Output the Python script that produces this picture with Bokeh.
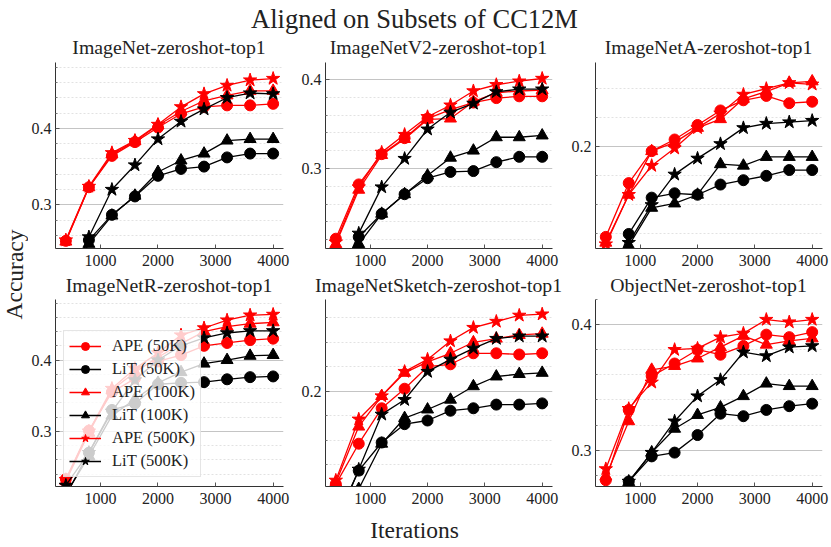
from bokeh.plotting import figure
from bokeh.models import Range1d, FixedTicker, Label
from bokeh.layouts import column, row
from bokeh.embed import file_html
from bokeh.resources import INLINE

# ---------------- data ----------------
iterations = [400, 800, 1200, 1600, 2000, 2400, 2800, 3200, 3600, 4000]
x_ticks = [1000, 2000, 3000, 4000]
series_labels = ["APE (50K)", "LiT (50K)", "APE (100K)", "LiT (100K)", "APE (500K)", "LiT (500K)"]
panel_titles = ["ImageNet-zeroshot-top1", "ImageNetV2-zeroshot-top1", "ImageNetA-zeroshot-top1",
                "ImageNetR-zeroshot-top1", "ImageNetSketch-zeroshot-top1", "ObjectNet-zeroshot-top1"]

# ImageNet
in_ape50 = [0.253, 0.323, 0.364, 0.382, 0.401, 0.419, 0.428, 0.430, 0.430, 0.432]
in_lit50 = [0.205, 0.254, 0.287, 0.311, 0.338, 0.347, 0.350, 0.362, 0.367, 0.367]
in_ape100 = [0.252, 0.323, 0.366, 0.383, 0.404, 0.422, 0.436, 0.443, 0.449, 0.449]
in_lit100 = [0.200, 0.249, 0.286, 0.312, 0.343, 0.358, 0.367, 0.384, 0.386, 0.386]
in_ape500 = [0.254, 0.324, 0.368, 0.384, 0.405, 0.428, 0.445, 0.456, 0.463, 0.465]
in_lit500 = [0.180, 0.258, 0.320, 0.352, 0.386, 0.409, 0.425, 0.440, 0.446, 0.445]

# ImageNetV2
v2_ape50 = [0.221, 0.282, 0.316, 0.334, 0.356, 0.366, 0.374, 0.379, 0.381, 0.381]
v2_lit50 = [0.160, 0.223, 0.249, 0.271, 0.289, 0.296, 0.297, 0.307, 0.313, 0.313]
v2_ape100 = [0.215, 0.276, 0.315, 0.333, 0.355, 0.356, 0.375, 0.385, 0.387, 0.388]
v2_lit100 = [0.155, 0.215, 0.249, 0.271, 0.292, 0.312, 0.320, 0.335, 0.335, 0.337]
v2_ape500 = [0.217, 0.279, 0.318, 0.338, 0.358, 0.371, 0.387, 0.394, 0.398, 0.401]
v2_lit500 = [0.165, 0.227, 0.279, 0.311, 0.344, 0.363, 0.373, 0.386, 0.389, 0.389]

# ImageNetA
a_ape50 = [0.138, 0.175, 0.197, 0.205, 0.215, 0.225, 0.232, 0.235, 0.230, 0.231]
a_lit50 = [0.100, 0.140, 0.165, 0.168, 0.167, 0.174, 0.177, 0.180, 0.184, 0.184]
a_ape100 = [0.134, 0.167, 0.197, 0.203, 0.213, 0.219, 0.233, 0.238, 0.244, 0.245]
a_lit100 = [0.095, 0.132, 0.158, 0.161, 0.167, 0.188, 0.187, 0.193, 0.193, 0.193]
a_ape500 = [0.133, 0.167, 0.187, 0.199, 0.213, 0.223, 0.236, 0.240, 0.244, 0.243]
a_lit500 = [0.095, 0.134, 0.160, 0.181, 0.192, 0.202, 0.213, 0.216, 0.217, 0.218]

# ImageNetR
r_ape50 = [0.233, 0.301, 0.355, 0.374, 0.398, 0.407, 0.420, 0.424, 0.428, 0.430]
r_lit50 = [0.210, 0.270, 0.330, 0.339, 0.366, 0.368, 0.369, 0.373, 0.376, 0.377]
r_ape100 = [0.230, 0.298, 0.358, 0.383, 0.404, 0.423, 0.440, 0.447, 0.451, 0.453]
r_lit100 = [0.212, 0.265, 0.322, 0.345, 0.368, 0.383, 0.395, 0.400, 0.406, 0.407]
r_ape500 = [0.232, 0.300, 0.360, 0.388, 0.410, 0.435, 0.445, 0.456, 0.463, 0.464]
r_lit500 = [0.224, 0.270, 0.328, 0.372, 0.400, 0.420, 0.431, 0.438, 0.441, 0.441]

# ImageNetSketch
sk_ape50 = [0.124, 0.157, 0.186, 0.202, 0.220, 0.222, 0.231, 0.231, 0.230, 0.231]
sk_lit50 = [0.095, 0.135, 0.158, 0.173, 0.176, 0.184, 0.186, 0.189, 0.189, 0.190]
sk_ape100 = [0.125, 0.171, 0.196, 0.215, 0.224, 0.231, 0.240, 0.243, 0.246, 0.247]
sk_lit100 = [0.085, 0.120, 0.157, 0.178, 0.185, 0.193, 0.204, 0.212, 0.214, 0.215]
sk_ape500 = [0.127, 0.177, 0.196, 0.216, 0.226, 0.241, 0.252, 0.257, 0.262, 0.263]
sk_lit500 = [0.090, 0.136, 0.181, 0.193, 0.216, 0.226, 0.235, 0.243, 0.245, 0.245]

# ObjectNet
on_ape50 = [0.276, 0.332, 0.359, 0.369, 0.380, 0.376, 0.383, 0.392, 0.390, 0.394]
on_lit50 = [0.250, 0.275, 0.295, 0.298, 0.312, 0.329, 0.327, 0.332, 0.335, 0.337]
on_ape100 = [0.279, 0.323, 0.364, 0.367, 0.373, 0.382, 0.391, 0.384, 0.387, 0.389]
on_lit100 = [0.250, 0.2745, 0.298, 0.317, 0.328, 0.334, 0.343, 0.353, 0.351, 0.351]
on_ape500 = [0.285, 0.333, 0.354, 0.380, 0.381, 0.390, 0.393, 0.404, 0.402, 0.404]
on_lit500 = [0.250, 0.275, 0.298, 0.323, 0.343, 0.356, 0.378, 0.375, 0.382, 0.383]

# ---------------- styling ----------------
FONT = "Liberation Serif"
TEXT_COLOR = "#222222"
colors = ["red", "black", "red", "black", "red", "black"]
markers = ["circle", "circle", "triangle", "triangle", "star", "star"]
marker_sizes = {"circle": 11, "triangle": 12, "star": 14}
major_y = [0.1, 0.2, 0.3, 0.4, 0.5]
minor_y = [round(0.1 + 0.02 * i, 2) for i in range(21)]
minor_y = [t for t in minor_y if all(abs(t - m) > 1e-9 for m in major_y)]

# layout constants (pixels)
W_LAB = 28
COL_W = [270, 270, 263]
BL = [26, 26, 26]
BR = [15, 16, 9]
TOP_H = 60
MID_H = 25
BOT_H = 37
ROW_H = [212, 213]
BT = 2
BB = 24
TXT_SHIFT = 8  # measured offset of the label baseline in the renderer


def make_panel(series, ylo, yhi, width, height, bl, br, legend=False):
    p = figure(width=width, height=height, x_range=Range1d(220, 4180), y_range=Range1d(ylo, yhi),
               output_backend="svg", toolbar_location=None,
               min_border_left=bl, min_border_right=br, min_border_top=BT, min_border_bottom=BB)
    p.outline_line_color = None
    p.xgrid.grid_line_color = None
    yt = FixedTicker(ticks=major_y, minor_ticks=minor_y)
    p.yaxis.ticker = yt
    p.ygrid.ticker = yt
    p.xaxis.ticker = FixedTicker(ticks=x_ticks)
    p.ygrid.grid_line_color = "#c4c4c4"
    p.ygrid.grid_line_width = 1
    p.ygrid.minor_grid_line_color = "#e2e2e2"
    p.ygrid.minor_grid_line_dash = "2 2"
    for ax in (p.xaxis, p.yaxis):
        ax.axis_line_color = "#333333"
        ax.major_tick_in = 4
        ax.major_tick_out = 0
        ax.major_tick_line_color = "#555555"
        ax.major_label_text_font = FONT
        ax.major_label_text_font_size = "16px"
        ax.major_label_text_color = TEXT_COLOR
    p.yaxis.minor_tick_in = 2
    p.yaxis.minor_tick_out = 0
    p.yaxis.minor_tick_line_color = "#777777"
    p.xaxis.minor_tick_line_color = None
    p.yaxis.major_label_standoff = 4
    p.xaxis.major_label_standoff = 6

    for lab, col, mk, ys in zip(series_labels, colors, markers, series):
        kw = {"legend_label": lab} if legend else {}
        p.line(iterations, ys, line_color=col, line_width=1.3, **kw)
        p.scatter(iterations, ys, marker=mk, size=marker_sizes[mk], fill_color=col,
                  line_color=col, line_width=1, **kw)

    if legend:
        lg = p.legend[0]
        lg.location = (8, 9)
        lg.label_text_font = FONT
        lg.label_text_font_size = "16.5px"
        lg.label_text_color = TEXT_COLOR
        lg.label_height = 20
        lg.glyph_height = 20
        lg.glyph_width = 32
        lg.spacing = 3
        lg.padding = 5
        lg.margin = 0
        lg.label_standoff = 11
        lg.border_line_color = "#cccccc"
        lg.background_fill_alpha = 0.8
    return p


def text_strip(width, height):
    f = figure(width=width, height=height, x_range=Range1d(0, width), y_range=Range1d(0, height),
               output_backend="svg", toolbar_location=None, x_axis_type=None, y_axis_type=None,
               min_border=0)
    f.outline_line_color = None
    return f


def add_text(f, text, x, y, size, angle=0.0):
    f.add_layout(Label(x=x, y=y, x_units="screen", y_units="screen", text=text, angle=angle,
                       text_align="center", text_baseline="alphabetic", text_font=FONT,
                       text_font_size=size, text_color=TEXT_COLOR))


# centres of the panel frames (page x)
frame_centres = []
x0 = W_LAB
for w, bl, br in zip(COL_W, BL, BR):
    frame_centres.append(x0 + bl + (w - bl - br) / 2.0)
    x0 += w
TOTAL_W = W_LAB + sum(COL_W)

# top strip: suptitle (baseline y=26) + first row of panel titles (baseline y=54)
top = text_strip(TOTAL_W, TOP_H)
add_text(top, "Aligned on Subsets of CC12M", 414, TOP_H - 26 + TXT_SHIFT, "26.5px")
for cx, t in zip(frame_centres, panel_titles[:3]):
    add_text(top, t, cx, TOP_H - 54 + TXT_SHIFT, "19.8px")

# middle strip: second row of panel titles (baseline 20 px below the strip top)
mid = text_strip(TOTAL_W - W_LAB, MID_H)
for cx, t in zip(frame_centres, panel_titles[3:]):
    add_text(mid, t, cx - W_LAB, MID_H - 20 + TXT_SHIFT, "19.8px")

p1 = make_panel([in_ape50, in_lit50, in_ape100, in_lit100, in_ape500, in_lit500],
                0.243, 0.486, COL_W[0], ROW_H[0], BL[0], BR[0])
p2 = make_panel([v2_ape50, v2_lit50, v2_ape100, v2_lit100, v2_ape500, v2_lit500],
                0.210, 0.419, COL_W[1], ROW_H[0], BL[1], BR[1])
p3 = make_panel([a_ape50, a_lit50, a_ape100, a_lit100, a_ape500, a_lit500],
                0.130, 0.258, COL_W[2], ROW_H[0], BL[2], BR[2])
p4 = make_panel([r_ape50, r_lit50, r_ape100, r_lit100, r_ape500, r_lit500],
                0.2225, 0.485, COL_W[0], ROW_H[1], BL[0], BR[0], legend=True)
p5 = make_panel([sk_ape50, sk_lit50, sk_ape100, sk_lit100, sk_ape500, sk_lit500],
                0.122, 0.275, COL_W[1], ROW_H[1], BL[1], BR[1])
p6 = make_panel([on_ape50, on_lit50, on_ape100, on_lit100, on_ape500, on_lit500],
                0.271, 0.420, COL_W[2], ROW_H[1], BL[2], BR[2])

body_h = ROW_H[0] + MID_H + ROW_H[1]
ylab = text_strip(W_LAB, body_h)
# centre at page y=274, baseline at page x=22
add_text(ylab, "Accuracy", 22 - TXT_SHIFT, TOP_H + body_h - 274, "23.5px", angle=1.5707963)

bottom = text_strip(TOTAL_W, BOT_H)
add_text(bottom, "Iterations", 414, BOT_H - 27 + TXT_SHIFT, "23.5px")

layout = column(top,
                row(ylab, column(row(p1, p2, p3), mid, row(p4, p5, p6))),
                bottom)

open("out.html", "w").write(file_html(layout, INLINE))
